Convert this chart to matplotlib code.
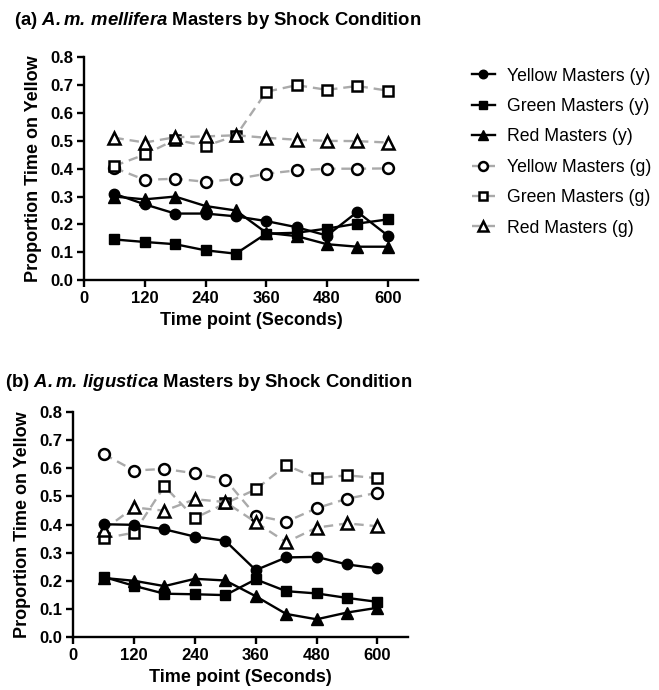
import matplotlib
matplotlib.use("Agg")
import matplotlib.pyplot as plt

plt.rcParams['font.family'] = ['Liberation Sans', 'DejaVu Sans']
plt.rcParams['mathtext.fontset'] = 'custom'
plt.rcParams['mathtext.rm'] = 'Liberation Sans'
plt.rcParams['mathtext.bf'] = 'Liberation Sans:bold'
plt.rcParams['mathtext.it'] = 'Liberation Sans:italic'
plt.rcParams['mathtext.bfit'] = 'Liberation Sans:italic:bold'

time = [60, 120, 180, 240, 300, 360, 420, 480, 540, 600]
labels = ["Yellow Masters (y)", "Green Masters (y)", "Red Masters (y)",
          "Yellow Masters (g)", "Green Masters (g)", "Red Masters (g)"]

# (a) A.m. mellifera
a_yellow_y = [0.310, 0.272, 0.239, 0.239, 0.229, 0.212, 0.190, 0.160, 0.245, 0.160]
a_green_y = [0.146, 0.137, 0.129, 0.107, 0.095, 0.167, 0.170, 0.185, 0.203, 0.218]
a_red_y = [0.300, 0.290, 0.300, 0.266, 0.250, 0.170, 0.158, 0.129, 0.120, 0.120]
a_yellow_g = [0.403, 0.360, 0.364, 0.353, 0.363, 0.382, 0.394, 0.400, 0.400, 0.401]
a_green_g = [0.410, 0.451, 0.504, 0.482, 0.518, 0.676, 0.700, 0.683, 0.697, 0.680]
a_red_g = [0.511, 0.494, 0.513, 0.516, 0.520, 0.511, 0.504, 0.500, 0.499, 0.494]

# (b) A.m. ligustica
b_yellow_y = [0.401, 0.399, 0.383, 0.357, 0.342, 0.238, 0.283, 0.285, 0.258, 0.244]
b_green_y = [0.214, 0.182, 0.154, 0.152, 0.149, 0.205, 0.163, 0.155, 0.139, 0.125]
b_red_y = [0.210, 0.200, 0.181, 0.207, 0.201, 0.145, 0.082, 0.063, 0.087, 0.104]
b_yellow_g = [0.651, 0.592, 0.598, 0.582, 0.560, 0.432, 0.410, 0.458, 0.492, 0.513]
b_green_g = [0.351, 0.371, 0.536, 0.423, 0.475, 0.525, 0.611, 0.565, 0.575, 0.565]
b_red_g = [0.381, 0.461, 0.449, 0.490, 0.480, 0.408, 0.337, 0.389, 0.404, 0.394]

xticks = [0, 120, 240, 360, 480, 600]
yticks = [0.0, 0.1, 0.2, 0.3, 0.4, 0.5, 0.6, 0.7, 0.8]

markers = ['o', 's', '^', 'o', 's', '^']
grey = '#aaaaaa'

fig = plt.figure(figsize=(6.59, 6.90), dpi=100)
ax1 = fig.add_axes([0.1275, 0.594, 0.507, 0.323])
ax2 = fig.add_axes([0.111, 0.0768, 0.508, 0.326])

def draw(ax, series):
    handles = []
    for i, vals in enumerate(series):
        if i < 3:
            h, = ax.plot(time, vals, color='black', lw=1.7, marker=markers[i],
                         ms=7.5 if markers[i] != '^' else 8, mfc='black', mec='black',
                         zorder=3)
        else:
            h, = ax.plot(time, vals, color=grey, lw=1.7, ls=(0, (4, 2.5)),
                         marker=markers[i], ms=7.8 if markers[i] != '^' else 8.8,
                         mfc='white', mec='black', mew=1.8, zorder=2)
        handles.append(h)
    ax.set_xlim(0, 660)
    ax.set_ylim(0, 0.8)
    ax.set_xticks(xticks)
    ax.set_yticks(yticks)
    ax.set_yticklabels([f"{t:.1f}" for t in yticks])
    for s in ['top', 'right']:
        ax.spines[s].set_visible(False)
    for s in ['left', 'bottom']:
        ax.spines[s].set_linewidth(1.7)
    ax.tick_params(direction='out', width=1.7, length=5, labelsize=12, pad=3)
    for lab in ax.get_xticklabels() + ax.get_yticklabels():
        lab.set_fontweight('bold')
    ax.set_xlabel("Time point (Seconds)", fontsize=13, fontweight='bold', labelpad=4)
    ax.set_ylabel("Proportion Time on Yellow", fontsize=13, fontweight='bold', labelpad=6)
    return handles

h = draw(ax1, [a_yellow_y, a_green_y, a_red_y, a_yellow_g, a_green_g, a_red_g])
draw(ax2, [b_yellow_y, b_green_y, b_red_y, b_yellow_g, b_green_g, b_red_g])

fig.text(0.022, 0.971, r"(a) $\bfit{A.m.\,mellifera}$ Masters by Shock Condition",
         fontsize=13.3, fontweight='bold', va='center', ha='left')
fig.text(0.007, 0.445, r"(b) $\bfit{A.m.\,ligustica}$ Masters by Shock Condition",
         fontsize=13.3, fontweight='bold', va='center', ha='left')

leg = fig.legend(h, labels, loc='upper left', bbox_to_anchor=(0.692, 0.925),
                 frameon=False, fontsize=12.7, handlelength=1.3, labelspacing=0.76,
                 handletextpad=0.7, markerscale=0.82)

fig.savefig("out.png", dpi=100)
